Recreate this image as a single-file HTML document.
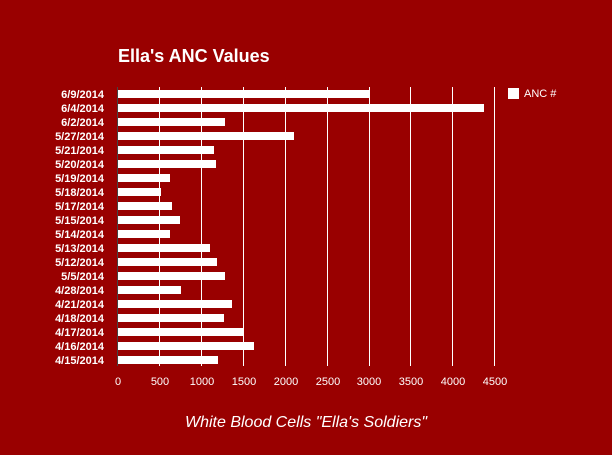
<!DOCTYPE html>
<html><head><style>
body{margin:0;background:#990000;}
svg{display:block}
text{font-family:"Liberation Sans",Arial,sans-serif;fill:#fff}
</style></head><body>
<svg width="612" height="455" xmlns="http://www.w3.org/2000/svg">
<rect width="612" height="455" fill="#990000"/>
<text x="118" y="62" font-size="18" font-weight="bold">Ella's ANC Values</text>
<g stroke="#fff" stroke-width="1">
<line x1="159.5" y1="87" x2="159.5" y2="366"/>
<line x1="201.5" y1="87" x2="201.5" y2="366"/>
<line x1="243.5" y1="87" x2="243.5" y2="366"/>
<line x1="285.5" y1="87" x2="285.5" y2="366"/>
<line x1="327.5" y1="87" x2="327.5" y2="366"/>
<line x1="369.5" y1="87" x2="369.5" y2="366"/>
<line x1="410.5" y1="87" x2="410.5" y2="366"/>
<line x1="452.5" y1="87" x2="452.5" y2="366"/>
<line x1="494.5" y1="87" x2="494.5" y2="366"/>
</g>
<line x1="117.5" y1="87" x2="117.5" y2="366" stroke="#444" stroke-width="1"/>
<g fill="#fff">
<rect x="118" y="90" width="252" height="8"/>
<rect x="118" y="104" width="366" height="8"/>
<rect x="118" y="118" width="107" height="8"/>
<rect x="118" y="132" width="176" height="8"/>
<rect x="118" y="146" width="96" height="8"/>
<rect x="118" y="160" width="98" height="8"/>
<rect x="118" y="174" width="52" height="8"/>
<rect x="118" y="188" width="43" height="8"/>
<rect x="118" y="202" width="54" height="8"/>
<rect x="118" y="216" width="62" height="8"/>
<rect x="118" y="230" width="52" height="8"/>
<rect x="118" y="244" width="92" height="8"/>
<rect x="118" y="258" width="99" height="8"/>
<rect x="118" y="272" width="107" height="8"/>
<rect x="118" y="286" width="63" height="8"/>
<rect x="118" y="300" width="114" height="8"/>
<rect x="118" y="314" width="106" height="8"/>
<rect x="118" y="328" width="125" height="8"/>
<rect x="118" y="342" width="136" height="8"/>
<rect x="118" y="356" width="100" height="8"/>
</g>
<g font-size="11" font-weight="bold" text-anchor="end">
<text x="104" y="98">6/9/2014</text>
<text x="104" y="112">6/4/2014</text>
<text x="104" y="126">6/2/2014</text>
<text x="104" y="140">5/27/2014</text>
<text x="104" y="154">5/21/2014</text>
<text x="104" y="168">5/20/2014</text>
<text x="104" y="182">5/19/2014</text>
<text x="104" y="196">5/18/2014</text>
<text x="104" y="210">5/17/2014</text>
<text x="104" y="224">5/15/2014</text>
<text x="104" y="238">5/14/2014</text>
<text x="104" y="252">5/13/2014</text>
<text x="104" y="266">5/12/2014</text>
<text x="104" y="280">5/5/2014</text>
<text x="104" y="294">4/28/2014</text>
<text x="104" y="308">4/21/2014</text>
<text x="104" y="322">4/18/2014</text>
<text x="104" y="336">4/17/2014</text>
<text x="104" y="350">4/16/2014</text>
<text x="104" y="364">4/15/2014</text>
</g>
<g font-size="11" text-anchor="middle">
<text x="118" y="385">0</text>
<text x="160" y="385">500</text>
<text x="202" y="385">1000</text>
<text x="244" y="385">1500</text>
<text x="286" y="385">2000</text>
<text x="328" y="385">2500</text>
<text x="369" y="385">3000</text>
<text x="411" y="385">3500</text>
<text x="453" y="385">4000</text>
<text x="495" y="385">4500</text>
</g>
<rect x="508" y="88" width="11" height="11" fill="#fff"/>
<text x="524" y="97" font-size="11">ANC #</text>
<text x="306" y="427" font-size="16" font-style="italic" text-anchor="middle">White Blood Cells "Ella's Soldiers"</text>
</svg>
</body></html>
